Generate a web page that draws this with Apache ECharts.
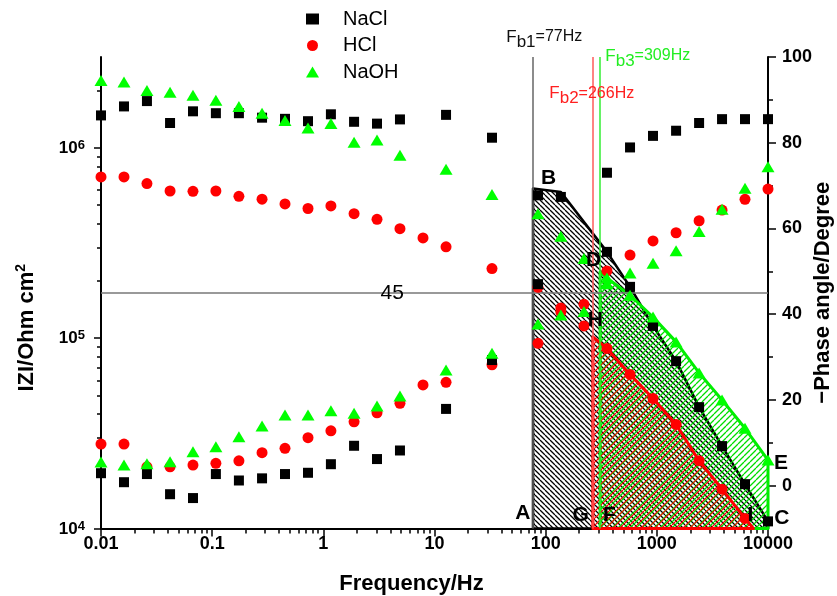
<!DOCTYPE html>
<html>
<head>
<meta charset="utf-8">
<script src="https://cdn.jsdelivr.net/npm/echarts@6/dist/echarts.min.js"></script>
<style>
html, body { margin: 0; padding: 0; background: #fff; }
#chart { width: 837px; height: 596px; }
</style>
</head>
<body>
<div id="chart"></div>
<script>
// frequencies (Hz), one row of the measurement
var freq = [0.01, 0.0161, 0.0259, 0.0418, 0.0672, 0.108, 0.174, 0.281, 0.452, 0.728,
  1.17, 1.89, 3.04, 4.89, 7.88, 12.7, 20.4, 32.9, 53.0, 85.3,
  137, 221, 356, 574, 924, 1490, 2400, 3860, 6210, 10000];

// |Z| (Ohm cm2), null = no point
var naclZ = [1.48e6, 1.65e6, 1.76e6, 1.35e6, 1.555e6, 1.52e6, 1.52e6, 1.44e6, 1.42e6, 1.38e6,
  1.50e6, 1.37e6, 1.34e6, 1.41e6, null, 1.49e6, null, 1.13e6, null, 5.63e5,
  5.52e5, null, 2.84e5, 1.86e5, 1.16e5, 7.57e4, 4.34e4, 2.71e4, 1.71e4, 1.09e4];
var hclZ = [7.03e5, 7.03e5, 6.49e5, 5.93e5, 5.91e5, 5.93e5, 5.56e5, 5.37e5, 5.07e5, 4.80e5,
  4.95e5, 4.51e5, 4.21e5, 3.76e5, 3.36e5, 3.02e5, null, 2.32e5, null, 1.85e5,
  1.44e5, 1.16e5, 8.83e4, 6.45e4, 4.82e4, 3.52e4, 2.27e4, 1.61e4, 1.13e4, null];
var naohZ = [2.26e6, 2.215e6, 2.00e6, 1.96e6, 1.89e6, 1.78e6, 1.65e6, 1.52e6, 1.39e6, 1.27e6,
  1.34e6, 1.07e6, 1.10e6, 9.13e5, null, 7.71e5, null, 5.68e5, null, 4.51e5,
  3.43e5, 2.62e5, 2.07e5, 1.68e5, 1.29e5, 9.56e4, 6.57e4, 4.73e4, 3.36e4, 2.29e4];

// -phase angle (degree)
var naclP = [2.9, 0.8, 2.7, -2.0, -2.9, 2.7, 1.2, 1.7, 2.7, 3.0,
  5.0, 9.3, 6.2, 8.2, null, 17.9, null, 29.3, null, 47.0,
  null, null, 73.0, 78.9, 81.6, 82.8, 84.6, 85.5, 85.5, 85.5];
var hclP = [9.7, 9.7, 4.4, 4.4, 4.8, 5.2, 5.8, 7.7, 8.7, 11.2,
  12.8, 14.9, 17.0, 19.2, 23.5, 24.1, null, 28.2, null, 33.2,
  40.5, 42.3, 50.1, 53.8, 57.1, 59.0, 61.8, 64.3, 66.8, 69.2];
var naohP = [5.5, 4.8, 5.1, 5.6, 7.9, 9.1, 11.4, 13.9, 16.5, 16.5,
  17.5, 16.9, 18.6, 20.9, null, 27.0, null, 30.9, null, 37.7,
  39.8, 40.6, 47.1, 49.6, 51.9, 54.8, 59.3, 64.5, 69.4, 74.4];

// break frequencies
var fb1 = 77, fb2 = 266, fb3 = 309;

// tick values
var xMajor = [0.01, 0.1, 1, 10, 100, 1000, 10000];
var zMajor = [1e4, 1e5, 1e6];
var phaseMajor = [0, 20, 40, 60, 80, 100];
var phaseMinor = [10, 30, 50, 70, 90];

var FONT = '"Liberation Sans", Arial, sans-serif';

function minors(lo, hi, top) {
  var out = [];
  for (var d = lo; d < hi; d *= 10) {
    for (var m = 2; m <= 9; m++) {
      var v = +(d * m).toPrecision(6);
      if (v <= top) out.push(v);
    }
  }
  return out;
}
var xMinor = minors(0.01, 10000, 10000);
var zMinor = minors(1e4, 1e7, 2.999e6);

function pts(vals) {
  var out = [];
  for (var i = 0; i < freq.length; i++) {
    if (vals[i] != null) out.push([freq[i], vals[i]]);
  }
  return out;
}
function from(vals, fmin) {
  return pts(vals).filter(function (p) { return p[0] >= fmin; });
}

// hatched areas (edges)
var naclPoly = [[fb1, 1e4], [fb1, 6.11e5], [freq[20], 5.86e5]].concat(from(naclZ, 300)).concat([[1e4, 1e4]]);
var naohPoly = [[fb3, 1e4], [fb3, 2.23e5]].concat(from(naohZ, 350)).concat([[1e4, 1e4]]);
var hclPoly = [[fb2, 1e4], [fb2, 1.016e5]].concat(from(hclZ, 350)).concat([[7390, 1e4]]);

function hatch(color, size, dir, w) {
  var c = document.createElement('canvas');
  c.width = size; c.height = size;
  var g = c.getContext('2d');
  g.strokeStyle = color; g.lineWidth = w;
  g.beginPath();
  for (var k = -size; k <= size; k += size) {
    if (dir === '\\') { g.moveTo(k, 0); g.lineTo(k + size, size); }
    else { g.moveTo(k, size); g.lineTo(k + size, 0); }
  }
  g.stroke();
  return c;
}

function polySeries(poly, pattern, stroke, lw, z) {
  return {
    type: 'custom', xAxisIndex: 0, yAxisIndex: 0, z: z, silent: true,
    data: [poly[0]],
    renderItem: function (params, api) {
      return {
        type: 'polygon',
        shape: { points: poly.map(function (p) { return api.coord(p); }) },
        style: { fill: { image: pattern, repeat: 'repeat' }, stroke: stroke, lineWidth: lw, lineJoin: 'round' }
      };
    }
  };
}

// text notes, anchored in data space (freq, |Z|)
var letter = { fill: '#000', font: 'bold 21px ' + FONT, align: 'center', verticalAlign: 'middle' };
function fbRich(color) {
  return {
    F: { fontSize: 17, lineHeight: 16, verticalAlign: 'top', fill: color, fontFamily: FONT },
    b: { fontSize: 17, lineHeight: 16, verticalAlign: 'bottom', fill: color, fontFamily: FONT },
    e: { fontSize: 16, lineHeight: 16, verticalAlign: 'top', fill: color, fontFamily: FONT },
    sp: { fontSize: 10, lineHeight: 22, fill: color }
  };
}
var notes = [
  { at: [62.2, 1.20e4], text: 'A', style: letter },
  { at: [106.2, 6.96e5], text: 'B', style: letter },
  { at: [269.9, 2.567e5], text: 'D', style: letter },
  { at: [279.5, 1.243e5], text: 'H', style: letter },
  { at: [207, 1.177e4], text: 'G', style: letter },
  { at: [373.6, 1.177e4], text: 'F', style: letter },
  { at: [6942, 1.177e4], text: 'I', style: letter },
  { at: [13340, 1.128e4], text: 'C', style: letter },
  { at: [13070, 2.19e4], text: 'E', style: letter },
  { at: [4.16, 1.733e5], text: '45', style: { fill: '#000', font: '21px ' + FONT, align: 'center', verticalAlign: 'middle' } },
  { at: [44.2, 4.24e6], text: '{F|F}{b|b1}{e|=77Hz}{sp| }', style: { fill: '#000', align: 'left', verticalAlign: 'top', rich: fbRich('#111') } },
  { at: [107.8, 2.13e6], text: '{F|F}{b|b2}{e|=266Hz}{sp| }', style: { fill: '#ff2020', align: 'left', verticalAlign: 'top', rich: fbRich('#ff2020') } },
  { at: [344, 3.37e6], text: '{F|F}{b|b3}{e|=309Hz}{sp| }', style: { fill: '#22ee22', align: 'left', verticalAlign: 'top', rich: fbRich('#22ee22') } }
];

function scatter(name, data, yIdx, symbol, size, color) {
  return {
    name: name, type: 'scatter', xAxisIndex: 0, yAxisIndex: yIdx, data: data,
    symbol: symbol, symbolSize: size, z: 6, silent: true,
    itemStyle: { color: color, opacity: 1 }
  };
}

var chart = echarts.init(document.getElementById('chart'), null, { renderer: 'canvas' });
var axisBlack = { color: '#000', width: 2 };
var tickBlack = { color: '#000', width: 1.5 };

chart.setOption({
  animation: false,
  backgroundColor: '#fff',
  grid: { left: 101, right: 69, top: 57, bottom: 67.5, containLabel: false, outerBoundsMode: 'none' },
  legend: {
    orient: 'vertical', left: 306, top: 9, padding: 0, itemGap: 6.5,
    itemWidth: 13, itemHeight: 11, selectedMode: false,
    textStyle: { fontSize: 20, color: '#000', fontFamily: FONT, padding: [0, 0, 0, 19] },
    data: [{ name: 'NaCl', icon: 'rect' }, { name: 'HCl', icon: 'circle' }, { name: 'NaOH', icon: 'triangle' }]
  },
  xAxis: [
    {
      type: 'log', logBase: 10, min: 0.01, max: 10000, position: 'bottom',
      name: 'Frequency/Hz', nameLocation: 'middle', nameGap: 44, nameMoveOverlap: false,
      nameTextStyle: { fontSize: 22, fontWeight: 'bold', color: '#000', fontFamily: FONT, padding: [0, 46, 0, 0] },
      axisLine: { onZero: false, lineStyle: axisBlack },
      axisTick: { customValues: xMajor, length: 8, lineStyle: tickBlack },
      axisLabel: {
        customValues: xMajor, margin: 7, fontSize: 18, fontWeight: 'bold', color: '#000', fontFamily: FONT,
        formatter: function (v) { return String(v); }
      },
      splitLine: { show: false }
    },
    {
      type: 'log', logBase: 10, min: 0.01, max: 10000, position: 'bottom',
      axisLine: { show: false, onZero: false },
      axisTick: { customValues: xMinor, length: 5, lineStyle: tickBlack },
      axisLabel: { show: false },
      splitLine: { show: false }
    }
  ],
  yAxis: [
    {
      type: 'log', logBase: 10, min: 1e4, max: 3e6, position: 'left',
      name: '{a|IZI/Ohm cm}{s|2}', nameLocation: 'middle', nameGap: 63, nameMoveOverlap: false,
      nameTextStyle: {
        padding: [0, 70, 0, 0],
        rich: {
          a: { fontSize: 22, fontWeight: 'bold', color: '#000', fontFamily: FONT, lineHeight: 24, verticalAlign: 'bottom' },
          s: { fontSize: 14, fontWeight: 'bold', color: '#000', fontFamily: FONT, lineHeight: 12, verticalAlign: 'top' }
        }
      },
      axisLine: { onZero: false, lineStyle: axisBlack },
      axisTick: { customValues: zMajor, length: 7, lineStyle: tickBlack },
      axisLabel: {
        customValues: zMajor, margin: 16,
        formatter: function (v) { return '{b|10}{s|' + Math.round(Math.log10(v)) + '}'; },
        rich: {
          b: { fontSize: 17, fontWeight: 'bold', color: '#000', fontFamily: FONT, lineHeight: 18, verticalAlign: 'bottom' },
          s: { fontSize: 13, fontWeight: 'bold', color: '#000', fontFamily: FONT, lineHeight: 6, verticalAlign: 'top' }
        }
      },
      splitLine: { show: false }
    },
    {
      type: 'log', logBase: 10, min: 1e4, max: 3e6, position: 'left',
      axisLine: { show: false, onZero: false },
      axisTick: { customValues: zMinor, length: 4, lineStyle: tickBlack },
      axisLabel: { show: false },
      splitLine: { show: false }
    },
    {
      type: 'value', min: -10, max: 100, position: 'right',
      name: '\u2212Phase angle/Degree', nameLocation: 'middle', nameGap: 44, nameMoveOverlap: false,
      nameTextStyle: { fontSize: 22, fontWeight: 'bold', color: '#000', fontFamily: FONT },
      axisLine: { onZero: false, lineStyle: axisBlack },
      axisTick: { customValues: phaseMajor, length: 8, lineStyle: tickBlack },
      axisLabel: { customValues: phaseMajor, margin: 14, fontSize: 18, fontWeight: 'bold', color: '#000', fontFamily: FONT },
      splitLine: { show: false }
    },
    {
      type: 'value', min: -10, max: 100, position: 'right',
      axisLine: { show: false, onZero: false },
      axisTick: { customValues: phaseMinor, length: 5, lineStyle: tickBlack },
      axisLabel: { show: false },
      splitLine: { show: false }
    }
  ],
  series: [
    {
      type: 'line', xAxisIndex: 0, yAxisIndex: 2, data: [], silent: true, z: 1,
      markLine: {
        silent: true, symbol: 'none', label: { show: false }, animation: false,
        data: [
          { xAxis: fb1, lineStyle: { color: '#666', width: 1.5, type: 'solid' } },
          { xAxis: fb2, lineStyle: { color: '#ff5a5a', width: 1.5, type: 'solid' } },
          { xAxis: fb3, lineStyle: { color: '#33ee33', width: 1.5, type: 'solid' } },
          { yAxis: 45, lineStyle: { color: '#777', width: 1.5, type: 'solid' } }
        ]
      }
    },
    polySeries(naclPoly, hatch('#000', 5, '\\', 1.3), '#000', 2.6, 2),
    polySeries(naohPoly, hatch('#00dd00', 6, '/', 1.3), '#00ee00', 3, 3),
    polySeries(hclPoly, hatch('#ff0000', 7, '/', 1.2), '#ff0000', 3, 4),
    scatter('HCl', pts(hclZ), 0, 'circle', 11, '#ff0000'),
    scatter('HCl', pts(hclP), 2, 'circle', 11, '#ff0000'),
    scatter('NaCl', pts(naclZ), 0, 'rect', 10, '#000000'),
    scatter('NaCl', pts(naclP), 2, 'rect', 10, '#000000'),
    scatter('NaOH', pts(naohZ), 0, 'triangle', [13, 11], '#00ff00'),
    scatter('NaOH', pts(naohP), 2, 'triangle', [13, 11], '#00ff00'),
    {
      type: 'custom', xAxisIndex: 0, yAxisIndex: 0, z: 10, silent: true,
      data: notes.map(function (n) { return n.at; }),
      renderItem: function (params, api) {
        var n = notes[params.dataIndex];
        var p = api.coord(n.at);
        var st = Object.assign({ text: n.text }, n.style);
        return { type: 'text', x: p[0], y: p[1], style: st };
      }
    }
  ]
});
</script>
</body>
</html>
